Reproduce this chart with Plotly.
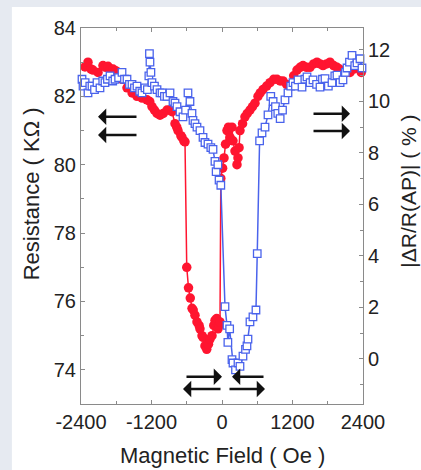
import plotly.graph_objects as go

# ---------------- data ----------------
red_field = [-2332, -2281, -2230, -2196, -2110, -2026, -1980, -1940, -1900, -1855, -1810, -1770,
             -1700, -1617, -1530, -1447, -1360, -1277, -1230, -1192, -1150, -1106, -1055, -1000,
             -936, -890, -851, -800, -770, -749, -700, -681, -650, -630,
             -600, -570, -540, -510, -490, -460, -426, -390, -375, -340, -323, -290, -260, -230,
             -204, -170, -140, -119, -90, -68, -50, -34,
             -20, 10, 34, 60, 85, 110, 136, 170, 187, 221, 255, 272, 290, 306, 350, 391, 430, 476,
             520, 561, 613, 650, 698, 760, 817, 880, 936, 990, 1038, 1100, 1157, 1220, 1277, 1330,
             1379, 1440, 1498, 1560, 1617, 1670, 1719, 1780, 1838, 1900, 1957, 2000, 2059, 2120,
             2179, 2240, 2315, 2370]
red_res = [82.86, 83.0, 82.8, 82.77, 82.7, 82.9, 82.85, 82.88, 82.8, 82.8, 82.75, 82.7,
           82.5, 82.25, 82.1, 82.0, 81.95, 81.9, 81.85, 81.7, 81.6, 81.5, 81.45, 81.5,
           81.6, 81.6, 81.55, 81.2, 81.1, 81.0, 80.85, 80.8, 80.7, 80.67,
           77.0, 76.4, 76.1, 75.8, 75.75, 75.6, 75.4, 75.3, 75.2, 75.0, 74.95, 74.7, 74.6, 74.75,
           74.9, 75.0, 75.3, 75.45, 75.5, 75.2, 75.3, 75.4,
           79.6, 79.9, 80.2, 80.6, 81.0, 81.1, 80.8, 81.1, 80.7, 80.4, 80.0, 80.2, 80.5, 81.0, 81.2,
           81.4, 81.5, 81.6, 81.7, 81.8, 82.0, 82.1, 82.2, 82.3, 82.4, 82.5, 82.5, 82.45, 82.45,
           82.35, 82.3, 82.6, 82.77, 82.85, 82.9, 82.85, 82.85, 82.95, 83.0, 82.95, 82.9, 82.95,
           83.0, 82.9, 82.85, 82.8, 82.75, 82.7, 82.7, 82.8, 82.85, 82.7]

blue_field = [-2383, -2366, -2330, -2281, -2250, -2213, -2170, -2128, -2077, -2030, -1992, -1950,
              -1906, -1860, -1821, -1760, -1702, -1660, -1617, -1575, -1532, -1490, -1447, -1400,
              -1362, -1311, -1270, -1245, -1235, -1226, -1210, -1192, -1150, -1106, -1055, -1021,
              -980, -936, -885, -834, -800, -766, -715, -664, -620, -579, -545, -511, -494, -460,
              -426, -375, -323, -290, -238, -190, -153, -120, -100, -70, -50, -20,
              51, 85, 100, 130, 170, 187, 230, 272, 306, 357, 400, 425, 442, 476, 527, 578, 600,
              640, 681, 732, 783, 830, 870, 910, 950, 990, 1030, 1072, 1123, 1170, 1208, 1250,
              1294, 1362, 1410, 1447, 1500, 1549, 1610, 1668, 1710, 1753, 1810, 1872, 1920, 1957,
              2010, 2059, 2100, 2128, 2170, 2213, 2260, 2298, 2349, 2383]
blue_res = [82.5, 82.3, 82.4, 82.1, 82.3, 82.3, 82.2, 82.4, 82.25, 82.45, 82.4, 82.5,
            82.6, 82.45, 82.5, 82.55, 82.7, 82.5, 82.5, 82.35, 82.35, 82.25, 82.3, 82.15,
            82.1, 82.25, 82.2, 82.6, 83.25, 83.0, 82.7, 82.4, 82.3, 82.2, 82.1, 82.1,
            82.0, 82.0, 82.1, 81.85, 81.8, 81.7, 81.55, 81.4, 81.6, 82.1, 81.85, 81.5, 81.3, 81.2,
            81.1, 81.0, 80.8, 80.65, 80.6, 80.5, 80.45, 80.1, 79.8, 80.0, 79.55, 79.4,
            75.85, 75.3, 74.8, 75.2, 74.3, 74.2, 74.0, 74.2, 74.1, 74.4, 74.6, 74.7, 74.9, 75.4,
            75.55, 75.75, 77.4,
            80.7, 80.93, 81.1, 81.46, 82.0, 81.85, 81.7, 81.5, 81.35, 81.6, 81.9, 82.1, 82.3, 82.4,
            82.3, 82.48, 82.27, 82.5, 82.57, 82.4, 82.48, 82.35, 82.27, 82.5, 82.52, 82.3, 82.4,
            82.6, 82.62, 82.4, 82.48, 82.7, 82.83, 83.0, 83.2, 82.9, 82.98, 83.1, 82.83]

x_ticks = [-2400, -1200, 0, 1200, 2400]
left_ticks = [74, 76, 78, 80, 82, 84]
right_ticks = [0, 2, 4, 6, 8, 10, 12]

x_title = "Magnetic Field ( Oe )"
left_title = "Resistance ( KΩ )"
right_title = "|ΔR/R(AP)| ( % )"

# arrows: (tail_x, tail_y, head_x, head_y)
arrows = [
    (-1430, 81.40, -2111, 81.40),
    (-1430, 80.87, -2111, 80.87),
    (1532, 81.49, 2179, 81.49),
    (1532, 80.99, 2179, 80.99),
    (-630, 73.80, 0, 73.80),
    (0, 73.44, -664, 73.44),
    (732, 73.80, 170, 73.80),
    (102, 73.44, 732, 73.44),
]

# ---------------- figure ----------------
FONT = "Liberation Sans, Arial, sans-serif"
RED = "#ff1530"
BLUE = "#4a63ec"

fig = go.Figure()

fig.add_trace(go.Scatter(
    x=red_field, y=red_res, mode="lines+markers",
    line=dict(color=RED, width=1.5),
    marker=dict(symbol="circle", size=9.5, color=RED),
    showlegend=False, cliponaxis=False))

fig.add_trace(go.Scatter(
    x=blue_field, y=blue_res, mode="lines+markers",
    line=dict(color=BLUE, width=1.5),
    marker=dict(symbol="square", size=7.5, color="white", line=dict(color=BLUE, width=1.3)),
    showlegend=False, cliponaxis=False))

# dummy trace to activate right axis
fig.add_trace(go.Scatter(x=[None], y=[None], yaxis="y2", showlegend=False, hoverinfo="skip"))

axis_common = dict(showline=True, linecolor="#8a8a8a", linewidth=1, ticks="inside",
                   ticklen=4, tickcolor="#8a8a8a", showgrid=False, zeroline=False,
                   tickfont=dict(family=FONT, size=20, color="#222"))

fig.update_layout(
    width=421, height=470,
    margin=dict(l=81, r=58, t=28, b=66, autoexpand=False),
    paper_bgcolor="#e6eaf1",
    plot_bgcolor="white",
    xaxis=dict(range=[-2400, 2400], tickvals=x_ticks, ticktext=[str(v) for v in x_ticks],
               mirror="ticks", minor=dict(dtick=600, tick0=0, ticks="inside", ticklen=3,
                                          tickcolor="#8a8a8a"),
               **axis_common),
    yaxis=dict(range=[73, 84], tickvals=left_ticks,
               minor=dict(dtick=1, tick0=73, ticks="inside", ticklen=3, tickcolor="#8a8a8a"),
               **axis_common),
    yaxis2=dict(range=[-1.75, 12.85], tickvals=right_ticks, overlaying="y", side="right",
                minor=dict(dtick=1, tick0=-1, ticks="inside", ticklen=3, tickcolor="#8a8a8a"),
                **axis_common),
)

# white panel behind figure
fig.add_shape(type="rect", xref="paper", yref="paper", x0=-0.245, x1=1.25, y0=-0.2, y1=1.056,
              fillcolor="white", line=dict(width=0), layer="below")

for tx, ty, hx, hy in arrows:
    fig.add_annotation(x=hx, y=hy, ax=tx, ay=ty, xref="x", yref="y", axref="x", ayref="y",
                       text="", showarrow=True, arrowhead=1, arrowsize=1.1, arrowwidth=2.5,
                       arrowcolor="#111", standoff=0, startstandoff=0)

fig.add_annotation(text=x_title, xref="paper", yref="paper", x=0.5, y=-0.138,
                   showarrow=False, xanchor="center", yanchor="middle",
                   font=dict(family=FONT, size=22, color="#222"))
fig.add_annotation(text=left_title, xref="paper", yref="paper", x=-0.174, y=0.56,
                   showarrow=False, textangle=-90, xanchor="center", yanchor="middle",
                   font=dict(family=FONT, size=22, color="#222"))
fig.add_annotation(text=right_title, xref="paper", yref="paper", x=1.16, y=0.565,
                   showarrow=False, textangle=-90, xanchor="center", yanchor="middle",
                   font=dict(family=FONT, size=21, color="#222"))

fig.write_html("out.html", config={"displayModeBar": False},
               post_script="document.body.style.margin='0';document.body.style.background='#e6eaf1';document.body.style.overflow='hidden';")
